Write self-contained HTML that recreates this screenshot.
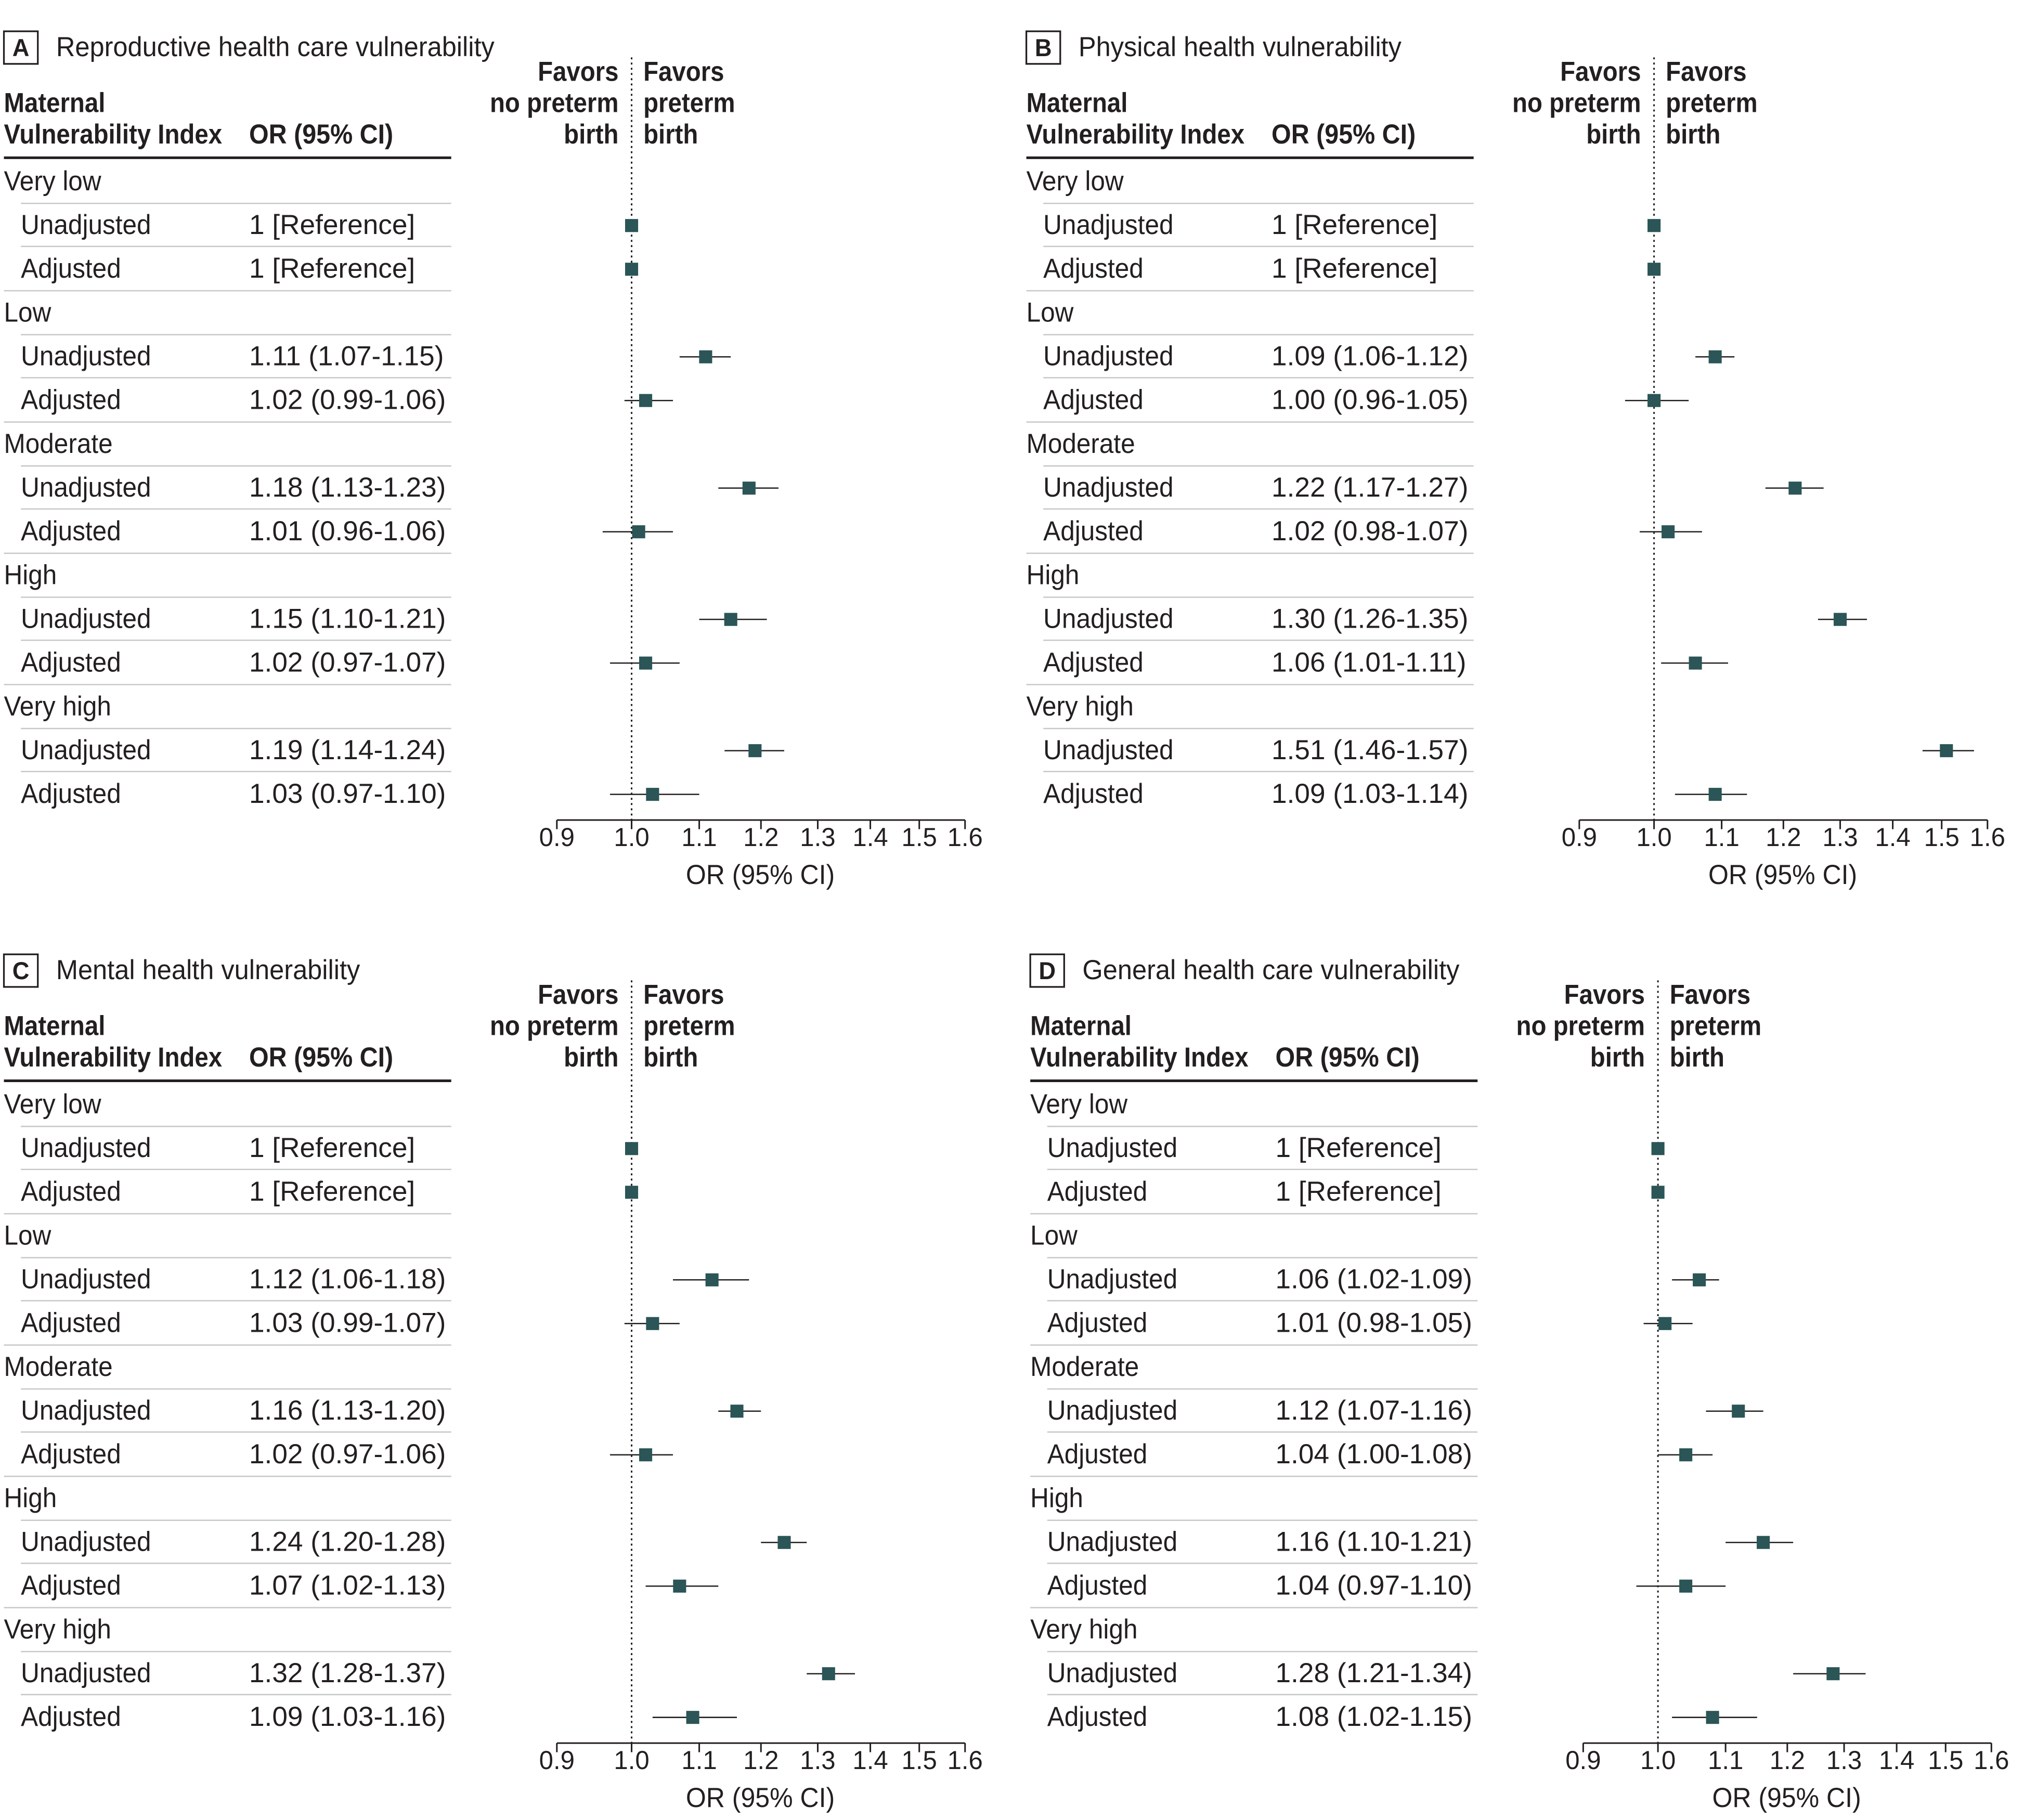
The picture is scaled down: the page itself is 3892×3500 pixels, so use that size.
<!DOCTYPE html>
<html><head><meta charset="utf-8">
<style>
html,body{margin:0;padding:0;background:#fff;}
svg{display:block;}
text{font-family:"Liberation Sans Narrow","Liberation Sans",sans-serif;fill:#231f20;}
</style></head>
<body>
<svg id="chart" xmlns="http://www.w3.org/2000/svg" width="3892" height="3500" viewBox="0 0 1552 1396" preserveAspectRatio="none"></svg>
<script>
const groups = ["Very low","Low","Moderate","High","Very high"];
const panelTitles = ["Reproductive health care vulnerability","Physical health vulnerability","Mental health vulnerability","General health care vulnerability"];
const panelLetters = ["A","B","C","D"];
const ticks = [0.9,1.0,1.1,1.2,1.3,1.4,1.5,1.6];
const tickLabels = ["0.9","1.0","1.1","1.2","1.3","1.4","1.5","1.6"];
// OR, lower, upper for Low..Very high
const unadjA = [[1.11,1.07,1.15],[1.18,1.13,1.23],[1.15,1.10,1.21],[1.19,1.14,1.24]];
const adjA   = [[1.02,0.99,1.06],[1.01,0.96,1.06],[1.02,0.97,1.07],[1.03,0.97,1.10]];
const unadjB = [[1.09,1.06,1.12],[1.22,1.17,1.27],[1.30,1.26,1.35],[1.51,1.46,1.57]];
const adjB   = [[1.00,0.96,1.05],[1.02,0.98,1.07],[1.06,1.01,1.11],[1.09,1.03,1.14]];
const unadjC = [[1.12,1.06,1.18],[1.16,1.13,1.20],[1.24,1.20,1.28],[1.32,1.28,1.37]];
const adjC   = [[1.03,0.99,1.07],[1.02,0.97,1.06],[1.07,1.02,1.13],[1.09,1.03,1.16]];
const unadjD = [[1.06,1.02,1.09],[1.12,1.07,1.16],[1.16,1.10,1.21],[1.28,1.21,1.34]];
const adjD   = [[1.01,0.98,1.05],[1.04,1.00,1.08],[1.04,0.97,1.10],[1.08,1.02,1.15]];
const refValue = 1;

const unadjAll=[unadjA,unadjB,unadjC,unadjD], adjAll=[adjA,adjB,adjC,adjD];
const NS="http://www.w3.org/2000/svg";
const svg=document.getElementById('chart');
function mk(tag,attrs,parent){const e=document.createElementNS(NS,tag);for(const k in attrs)e.setAttribute(k,attrs[k]);(parent||svg).appendChild(e);return e;}
function txt(s,x,y,size,weight,anchor,parent,sx){const t=mk('text',{x:0,y:0,transform:`translate(${x},${y}) scale(${sx||0.95},1)`,'font-size':size,'font-weight':weight||'normal','text-anchor':anchor||'start'},parent);t.textContent=s;return t;}
function fmt(v){return v[0].toFixed(2)+" ("+v[1].toFixed(2)+"-"+v[2].toFixed(2)+")";}

const offsets=[[0,0],[784,0],[0,708],[787,708]];
for(let p=0;p<4;p++){
  const ox=offsets[p][0], oy=offsets[p][1];
  const g=mk('g',{transform:`translate(${ox},${oy})`});
  
  
  const x0=427,x1=740;
  const lo=Math.log(0.9),hi=Math.log(1.6);
  const xs=v=>x0+(Math.log(v)-lo)/(hi-lo)*(x1-x0);
  const box=mk('rect',{x:3,y:24,width:26,height:25,fill:'none',stroke:'#231f20','stroke-width':1.3},g);
  
  
  const lt=txt(panelLetters[p],16,43,19,'bold','middle',g,0.95);
  
  
  const tt=txt(panelTitles[p],43,43,21,'normal','start',g,0.96);
  
  
  const h1=txt("Maternal",3,86,21,'bold','start',g,0.9);
  
  
  txt("Vulnerability Index",3,110,21,'bold','start',g,0.9);
  const h2=txt("OR (95% CI)",191,110,21,'bold','start',g,0.92);
  
  
  mk('line',{x1:3,x2:346,y1:121,y2:121,stroke:'#231f20','stroke-width':2},g);
  const fl=["Favors","no preterm","birth"], fr=["Favors","preterm","birth"];
  for(let i=0;i<3;i++){
    const a=txt(fl[i],xs(1)-10,62+24*i,21,'bold','end',g,0.9);
    
    
    const b=txt(fr[i],xs(1)+9,62+24*i,21,'bold','start',g,0.9);
    
    
  }
  const ref=mk('line',{x1:xs(1),x2:xs(1),y1:44,y2:629,stroke:'#231f20','stroke-width':1.2,'stroke-dasharray':'1.5,2.5'},g);
  
  
  for(let k=0;k<5;k++){
    const gy=139+100.7*k, uy=172.5+100.7*k, ay=206+100.7*k;
    const gl=txt(groups[k],3,gy+7,21,'normal','start',g,0.94);
    
    
    txt("Unadjusted",16,uy+7,21,'normal','start',g,0.94);
    txt("Adjusted",16,ay+7,21,'normal','start',g,0.94);
    mk('line',{x1:16,x2:346,y1:gy+17,y2:gy+17,stroke:'#c8c8c8','stroke-width':1},g);
    mk('line',{x1:16,x2:346,y1:uy+16.5,y2:uy+16.5,stroke:'#c8c8c8','stroke-width':1},g);
    if(k<4) mk('line',{x1:3,x2:346,y1:ay+17,y2:ay+17,stroke:'#c8c8c8','stroke-width':1},g);
    let u,a;
    if(k===0){u=[refValue,refValue,refValue];a=[refValue,refValue,refValue];}
    else {u=unadjAll[p][k-1];a=adjAll[p][k-1];}
    const rows=[[u,uy],[a,ay]];
    for(let r=0;r<2;r++){
      const v=rows[r][0], y=rows[r][1];
      const vt=txt(k===0?"1 [Reference]":fmt(v),191,y+7,21,'normal','start',g,1.01);
      
      
      if(k>0){
        const ci=mk('line',{x1:xs(v[1]),x2:xs(v[2]),y1:y+0.5,y2:y+0.5,stroke:'#231f20','stroke-width':1},g);
        
        
      }
      const m=mk('rect',{x:xs(v[0])-5,y:y-4.5,width:10,height:10,fill:'#2b5556'},g);
      
      
    }
  }
  const ax=mk('line',{x1:x0,x2:x1,y1:629,y2:629,stroke:'#231f20','stroke-width':1.2},g);
  
  
  for(let i=0;i<ticks.length;i++){
    const x=xs(ticks[i]);
    mk('line',{x1:x,x2:x,y1:629,y2:636,stroke:'#231f20','stroke-width':1.2},g);
    const tl=txt(tickLabels[i],x,649,20,'normal','middle',g,0.98);
    
    
  }
  const xt=txt("OR (95% CI)",583,678,21,'normal','middle',g,0.95);
  
  
}
</script>
</body></html>
